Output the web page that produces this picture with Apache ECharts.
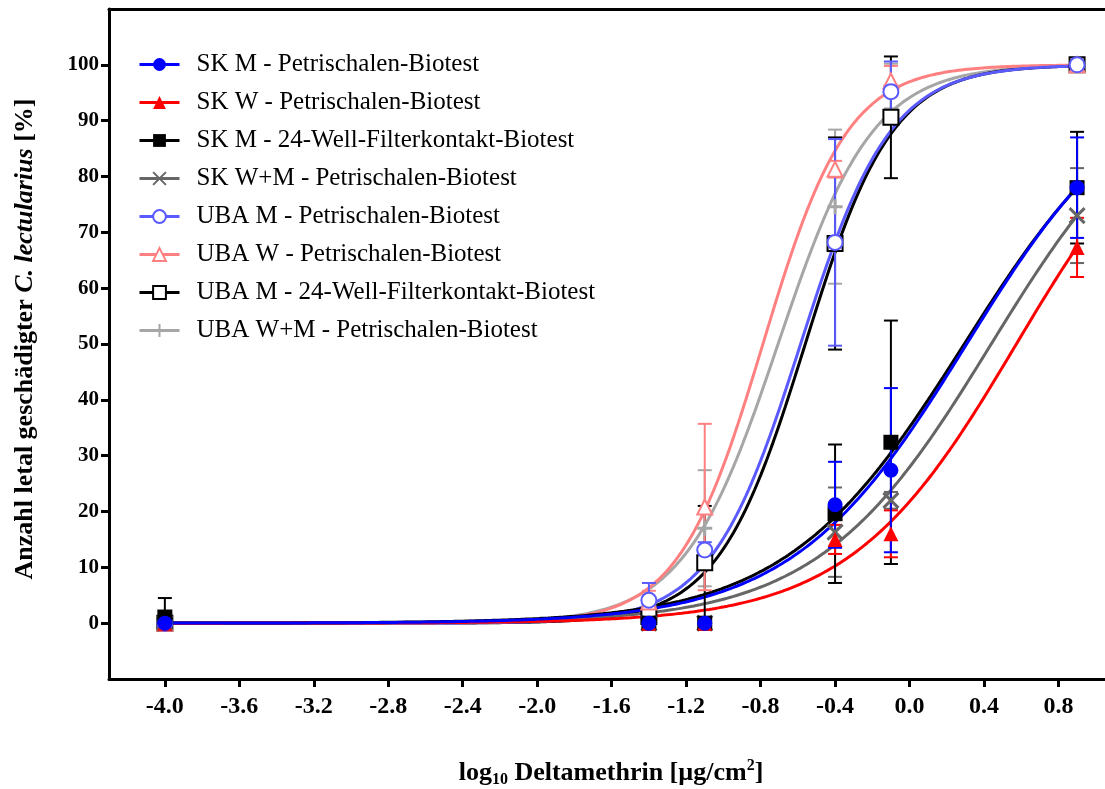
<!DOCTYPE html>
<html>
<head>
<meta charset="utf-8">
<script src="https://cdn.jsdelivr.net/npm/echarts@6/dist/echarts.min.js"></script>
<style>
  html, body { margin: 0; padding: 0; background: #fff; }
  #chart { width: 1105px; height: 789px; }
</style>
</head>
<body>
<div id="chart"></div>
<script>
// log10 doses (µg/cm²) at which mortality was recorded
const doses = [-4.0, -1.4, -1.1, -0.4, -0.1, 0.9];

// axis tick labels
const xTickValues = [-4.0, -3.6, -3.2, -2.8, -2.4, -2.0, -1.6, -1.2, -0.8, -0.4, 0.0, 0.4, 0.8];
const yTickValues = [0, 10, 20, 30, 40, 50, 60, 70, 80, 90, 100];

const seriesNames = [
  'SK M - Petrischalen-Biotest',
  'SK W - Petrischalen-Biotest',
  'SK M - 24-Well-Filterkontakt-Biotest',
  'SK W+M - Petrischalen-Biotest',
  'UBA M - Petrischalen-Biotest',
  'UBA W - Petrischalen-Biotest',
  'UBA M - 24-Well-Filterkontakt-Biotest',
  'UBA W+M - Petrischalen-Biotest'
];

// mean mortality [%] and standard deviation per dose
const skMPetriMean   = [0, 0, 0, 21.2, 27.4, 78.0];
const skMPetriSd     = [0, 0, 0, 7.7, 14.7, 9.0];
const skWPetriMean   = [0, 0, 0, 15.0, 16.0, 67.3];
const skWPetriSd     = [0, 0, 0, 2.6, 4.2, 5.3];
const skMWellMean    = [1.1, 0, 0, 19.6, 32.4, 78.0];
const skMWellSd      = [3.4, 0, 0, 12.4, 21.8, 10.0];
const skWMPetriMean  = [0, 0, 0, 16.3, 22.0, 73.0];
const skWMPetriSd    = [0, 0, 0, 8.0, 1.5, 8.5];
const ubaMPetriMean  = [0, 4.1, 13.1, 68.2, 95.2, 100];
const ubaMPetriSd    = [0, 3.1, 1.4, 18.5, 5.4, 0];
const ubaWPetriMean  = [0, 3.8, 20.8, 81.3, 97.1, 100];
const ubaWPetriSd    = [0, 2.0, 14.9, 1.5, 2.7, 0];
const ubaMWellMean   = [0, 1.2, 10.8, 68.0, 90.6, 100];
const ubaMWellSd     = [0, 0, 10.2, 19.0, 10.9, 0];
const ubaWMPetriMean = [0, 3.0, 17.0, 74.6, 96.2, 100];
const ubaWMPetriSd   = [0, 0, 10.4, 13.8, 4.0, 0];

// sigmoidal dose-response fits (bottom 0 %, top 100 %)
const fitLogEC50  = [0.307, 0.574, 0.294, 0.439, -0.585, -0.7875, -0.56, -0.706];
const fitHillSlope = [0.93, 0.968, 0.907, 0.937, 1.8, 1.91, 1.85, 1.707];

const means = [skMPetriMean, skWPetriMean, skMWellMean, skWMPetriMean,
               ubaMPetriMean, ubaWPetriMean, ubaMWellMean, ubaWMPetriMean];
const sds = [skMPetriSd, skWPetriSd, skMWellSd, skWMPetriSd,
             ubaMPetriSd, ubaWPetriSd, ubaMWellSd, ubaWMPetriSd];

// drawing styles
const SYM_X = 'path://M0,0L10,10M10,0L0,10';
const SYM_PLUS = 'path://M5,0L5,10M0,5L10,5';
const styles = [
  { color: '#0000ff', symbol: 'circle' },
  { color: '#ff0000', symbol: 'triangle' },
  { color: '#000000', symbol: 'rect' },
  { color: '#666666', symbol: SYM_X, stroked: true },
  { color: '#5a5aff', symbol: 'emptyCircle' },
  { color: '#ff8080', symbol: 'emptyTriangle' },
  { color: '#000000', symbol: 'emptyRect' },
  { color: '#a6a6a6', symbol: SYM_PLUS, stroked: true }
];

const FONT = '"Liberation Serif", "Times New Roman", serif';

function fitCurve(i) {
  const pts = [];
  const x0 = doses[0], x1 = doses[doses.length - 1];
  const n = 300;
  for (let k = 0; k <= n; k++) {
    const x = x0 + (x1 - x0) * k / n;
    const y = 100 / (1 + Math.pow(10, (fitLogEC50[i] - x) * fitHillSlope[i]));
    pts.push([x, y]);
  }
  return pts;
}

function itemStyleFor(st) {
  if (st.stroked) {
    return { color: 'rgba(0,0,0,0)', borderColor: st.color, borderWidth: 3, opacity: 1 };
  }
  if (st.symbol.indexOf('empty') === 0) {
    return { color: st.color, borderColor: st.color, borderWidth: 3, opacity: 1 };
  }
  return { color: st.color, borderColor: st.color, borderWidth: 0, opacity: 1 };
}

// vertical SD bars with caps, cut off at 0 %
function errorBars(i) {
  const st = styles[i];
  const data = [];
  doses.forEach((x, k) => {
    if (sds[i][k] > 0) data.push([x, Math.max(0, means[i][k] - sds[i][k]), means[i][k] + sds[i][k]]);
  });
  return {
    name: seriesNames[i],
    type: 'custom',
    z: 3,
    silent: true,
    encode: { x: 0, y: [1, 2] },
    data,
    renderItem(params, api) {
      const x = api.value(0);
      const lo = api.coord([x, api.value(1)]);
      const hi = api.coord([x, api.value(2)]);
      const hw = 7;
      const s = { stroke: st.color, lineWidth: 2 };
      const children = [
        { type: 'line', shape: { x1: lo[0], y1: lo[1], x2: hi[0], y2: hi[1] }, style: s },
        { type: 'line', shape: { x1: hi[0] - hw, y1: hi[1], x2: hi[0] + hw, y2: hi[1] }, style: s }
      ];
      if (api.value(1) > 0) {
        children.push({ type: 'line', shape: { x1: lo[0] - hw, y1: lo[1], x2: lo[0] + hw, y2: lo[1] }, style: s });
      }
      return { type: 'group', children };
    }
  };
}

const series = [];
// later groups first so the first-listed groups end up on top
for (let i = seriesNames.length - 1; i >= 0; i--) {
  const st = styles[i];
  series.push({
    name: seriesNames[i],
    type: 'line',
    z: 2,
    data: fitCurve(i),
    showSymbol: false,
    symbol: st.symbol,
    symbolSize: 15,
    itemStyle: itemStyleFor(st),
    lineStyle: { color: st.color, width: 3 },
    silent: true
  });
  series.push(errorBars(i));
  series.push({
    name: seriesNames[i],
    type: 'scatter',
    z: 4,
    symbol: st.symbol,
    symbolSize: 15,
    itemStyle: itemStyleFor(st),
    data: doses.map((x, k) => [x, means[i][k]]),
    silent: true
  });
}

const chart = echarts.init(document.getElementById('chart'), null, { renderer: 'canvas' });
chart.setOption({
  animation: false,
  backgroundColor: '#fff',
  grid: { left: 109, right: 0, top: 9, bottom: 110, containLabel: false },
  legend: {
    data: seriesNames,
    orient: 'vertical',
    left: 133,
    top: 47,
    itemWidth: 40,
    itemHeight: 16,
    itemGap: 13,
    selectedMode: false,
    lineStyle: { width: 3 },
    textStyle: { fontFamily: FONT, fontSize: 25, color: '#000', padding: [0, 0, 0, 12] }
  },
  xAxis: [
    {
      type: 'value',
      min: -4.3,
      max: 1.05,
      axisLine: { show: true, onZero: false, lineStyle: { color: '#000', width: 3 } },
      axisTick: { show: true, inside: false, length: 8, lineStyle: { color: '#000', width: 3 }, customValues: xTickValues },
      axisLabel: {
        customValues: xTickValues,
        formatter: v => v.toFixed(1),
        fontFamily: FONT, fontWeight: 'bold', fontSize: 24, color: '#000', margin: 16
      },
      splitLine: { show: false }
    },
    {
      type: 'value',
      position: 'top',
      min: -4.3,
      max: 1.05,
      axisLine: { show: true, onZero: false, lineStyle: { color: '#000', width: 3 } },
      axisTick: { show: false },
      axisLabel: { show: false },
      splitLine: { show: false }
    }
  ],
  yAxis: {
    type: 'value',
    min: -10,
    max: 110,
    axisLine: { show: true, onZero: false, lineStyle: { color: '#000', width: 3 } },
    axisTick: { show: true, inside: false, length: 8, lineStyle: { color: '#000', width: 3 }, customValues: yTickValues },
    axisLabel: {
      customValues: yTickValues,
      fontFamily: FONT, fontWeight: 'bold', fontSize: 21, color: '#000', margin: 10
    },
    splitLine: { show: false }
  },
  graphic: [
    {
      type: 'text',
      x: 25,
      y: 339,
      rotation: Math.PI / 2,
      style: {
        text: '{b|Anzahl letal geschädigter }{i|C. lectularius}{b| [%]}',
        align: 'center',
        verticalAlign: 'middle',
        rich: {
          b: { fontFamily: FONT, fontWeight: 'bold', fontSize: 26, fill: '#000' },
          i: { fontFamily: FONT, fontWeight: 'bold', fontStyle: 'italic', fontSize: 26, fill: '#000' }
        }
      }
    },
    {
      type: 'text',
      x: 611,
      y: 773,
      style: {
        text: '{b|log}{s|10}{b| Deltamethrin [µg/cm}{p|2}{b|]}',
        align: 'center',
        verticalAlign: 'middle',
        rich: {
          b: { fontFamily: FONT, fontWeight: 'bold', fontSize: 26, lineHeight: 30, fill: '#000' },
          s: { fontFamily: FONT, fontWeight: 'bold', fontSize: 16, lineHeight: 17, verticalAlign: 'bottom', fill: '#000' },
          p: { fontFamily: FONT, fontWeight: 'bold', fontSize: 16, lineHeight: 17, verticalAlign: 'top', fill: '#000' }
        }
      }
    }
  ],
  series
});
</script>
</body>
</html>
